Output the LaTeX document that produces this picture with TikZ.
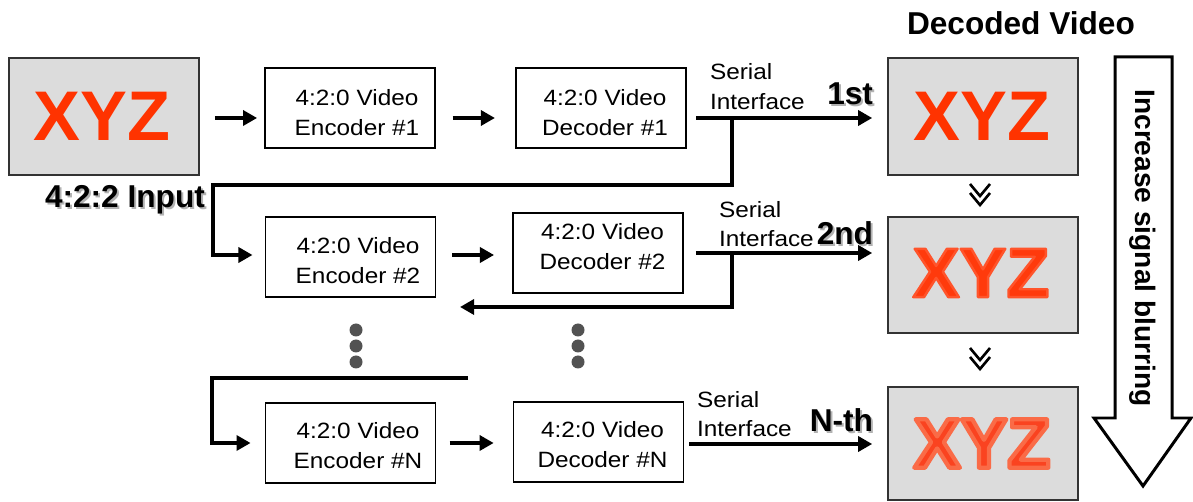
\documentclass[tikz,border=0pt]{standalone}
\usepackage{fontspec}
\setmainfont{Liberation Sans}
\usetikzlibrary{arrows.meta,calc}
\definecolor{xyzred}{HTML}{FF3300}
\definecolor{xyzsoft}{HTML}{FF3A0C}
\definecolor{xyzsofter}{HTML}{FA4320}
\definecolor{boxgray}{HTML}{DCDCDC}
\newcommand{\blurtxt}[3]{\special{pdf:literal direct 2 Tr #1 RG #2 w 1 j}#3\special{pdf:literal direct 0 Tr}}
\begin{document}
\begin{tikzpicture}[x=0.02cm,y=-0.02cm,
  every node/.style={inner sep=0pt,outer sep=0pt},
  codec/.style={draw=black,line width=0.7pt,fill=white,minimum width=3.4cm,minimum height=1.6cm},
  codectext/.style={align=center,xscale=1.1,font=\fontsize{12.6}{17}\selectfont},
  small/.style={anchor=base west,xscale=1.1,font=\fontsize{12.6}{17}\selectfont},
  imgbox/.style={draw=black!80,line width=0.9pt,fill=boxgray,minimum width=3.8cm},
  xyz/.style={text=xyzred,font=\fontsize{40}{42}\bfseries\selectfont},
  bus/.style={line width=2.8pt,line join=miter},
  arr/.style={bus,-{Triangle[length=8pt,width=8.5pt]}},
  boldlbl/.style={font=\fontsize{18}{20}\bfseries\selectfont},
  shadowlbl/.style={boldlbl,text=black!30},
  dotc/.style={circle,fill=black!68,minimum size=0.26cm},
  chev/.style={line width=1.5pt,line join=miter}
]
\useasboundingbox (0,0) rectangle (1193,502);

% input image
\node[imgbox,minimum height=2.34cm] (in) at (104,116.5) {};
\node[xyz] (inxyz) at (102,116) {XYZ};
\node[shadowlbl,anchor=base west] (inlbls) at (47,210) {4:2:2 Input};
\node[boldlbl,anchor=base west] (inlbl) at (45,208) {4:2:2 Input};

% codec boxes
\node[codec] (e1) at (350,108) {};
\node[codectext] (e1t) at (357,112.5) {4:2:0 Video\\Encoder \#1};
\node[codec] (d1) at (601,108) {};
\node[codectext] (d1t) at (605,112.5) {4:2:0 Video\\Decoder \#1};
\node[codec] (e2) at (350.5,257) {};
\node[codectext] (e2t) at (358,260.5) {4:2:0 Video\\Encoder \#2};
\node[codec] (d2) at (598,253) {};
\node[codectext] (d2t) at (602.5,246.5) {4:2:0 Video\\Decoder \#2};
\node[codec] (eN) at (350.5,443) {};
\node[codectext] (eNt) at (358,446) {4:2:0 Video\\Encoder \#N};
\node[codec] (dN) at (598.5,442) {};
\node[codectext] (dNt) at (602.5,445) {4:2:0 Video\\Decoder \#N};

% output images
\node[imgbox,minimum height=2.34cm] (o1) at (983,116.5) {};
\node[xyz] (o1xyz) at (982,116) {XYZ};
\node[imgbox,minimum height=2.32cm] (o2) at (983,275) {};
\node[xyz,text=xyzsoft] (o2xyz) at (981,273) {\blurtxt{1 0.33 0.17}{1.4}{XYZ}};
\node[imgbox,minimum height=2.26cm] (o3) at (983,443.5) {};
\node[xyz,text=xyzsofter] (o3xyz) at (982,443.5) {\blurtxt{0.98 0.42 0.28}{2.4}{XYZ}};

\node[boldlbl,anchor=base west] (dec) at (907,35) {Decoded Video};

% chevrons between output images
\foreach \y [count=\i] in {184,348} {
  \draw[chev] (970,\y) -- (980,\y+12) -- (990,\y);
  \draw[chev] (970,\y+9) -- (980,\y+21) -- (990,\y+9);
}

% big arrow
\draw[line width=1.7pt,fill=white,line join=miter]
  (1115,57) -- (1172,57) -- (1172,418) -- (1191,418) -- (1143,486) -- (1094,418) -- (1115,418) -- cycle;
\node[rotate=-90,font=\fontsize{16}{18}\bfseries\selectfont] (blurlbl) at (1143,248) {Increase signal blurring};

% row coordinates
\coordinate (r1) at (0,118);
\coordinate (r2) at (0,255);
\coordinate (r2s) at (0,253);
\coordinate (rN) at (0,443);
\coordinate (rNs) at (0,444);

% row 1
\draw[arr,shorten <=9pt,shorten >=4.5pt] (in.east |- r1) -- (e1.west |- r1);
\draw[arr,shorten <=10pt,shorten >=12pt] (e1.east |- r1) -- (d1.west |- r1);
\draw[arr,shorten <=5.7pt,shorten >=9pt] (d1.east |- r1) -- (o1.west |- r1);
\node[small] (s1a) at (710,80) {Serial};
\node[small] (s1b) at (710,110) {Interface};
\node[shadowlbl,anchor=base east] (l1s) at (875,107) {1st};
\node[boldlbl,anchor=base east] (l1) at (873,105) {1st};

% loop 1 -> 2
\coordinate (j1) at (732,118);
\coordinate (k1) at (213,185);
\draw[arr,shorten >=7.4pt] (j1) |- (k1) |- (e2.west |- r2);

% row 2
\draw[arr,shorten <=9.6pt,shorten >=10.8pt] (e2.east |- r2) -- (d2.west |- r2);
\draw[arr,shorten <=7.4pt,shorten >=9pt] (d2.east |- r2s) -- (o2.west |- r2s);
\node[small] (s2a) at (719,218) {Serial};
\node[small] (s2b) at (719,247) {Interface};
\node[shadowlbl,anchor=base east] (l2s) at (875,247) {2nd};
\node[boldlbl,anchor=base east] (l2) at (873,245) {2nd};

% loop 2 -> ...
\coordinate (j2) at (732,253);
\coordinate (ret) at (460,307);
\draw[arr] (j2) |- (ret);

% dots
\foreach \y [count=\i] in {330,346,362} {
  \node[dotc] (dl\i) at (356,\y) {};
  \node[dotc] (dr\i) at (578,\y) {};
}

% row N
\coordinate (rs) at (468,378);
\coordinate (kN) at (212,443);
\draw[arr,shorten >=8.5pt] (rs) -| (kN) -- (eN.west |- rN);
\draw[arr,shorten <=8pt,shorten >=11.3pt] (eN.east |- rN) -- (dN.west |- rN);
\draw[arr,shorten <=3.4pt,shorten >=9pt] (dN.east |- rNs) -- (o3.west |- rNs);
\node[small] (sNa) at (697,408) {Serial};
\node[small] (sNb) at (697,437) {Interface};
\node[shadowlbl,anchor=base east] (lNs) at (875,434) {N-th};
\node[boldlbl,anchor=base east] (lN) at (873,432) {N-th};
\end{tikzpicture}
\end{document}
